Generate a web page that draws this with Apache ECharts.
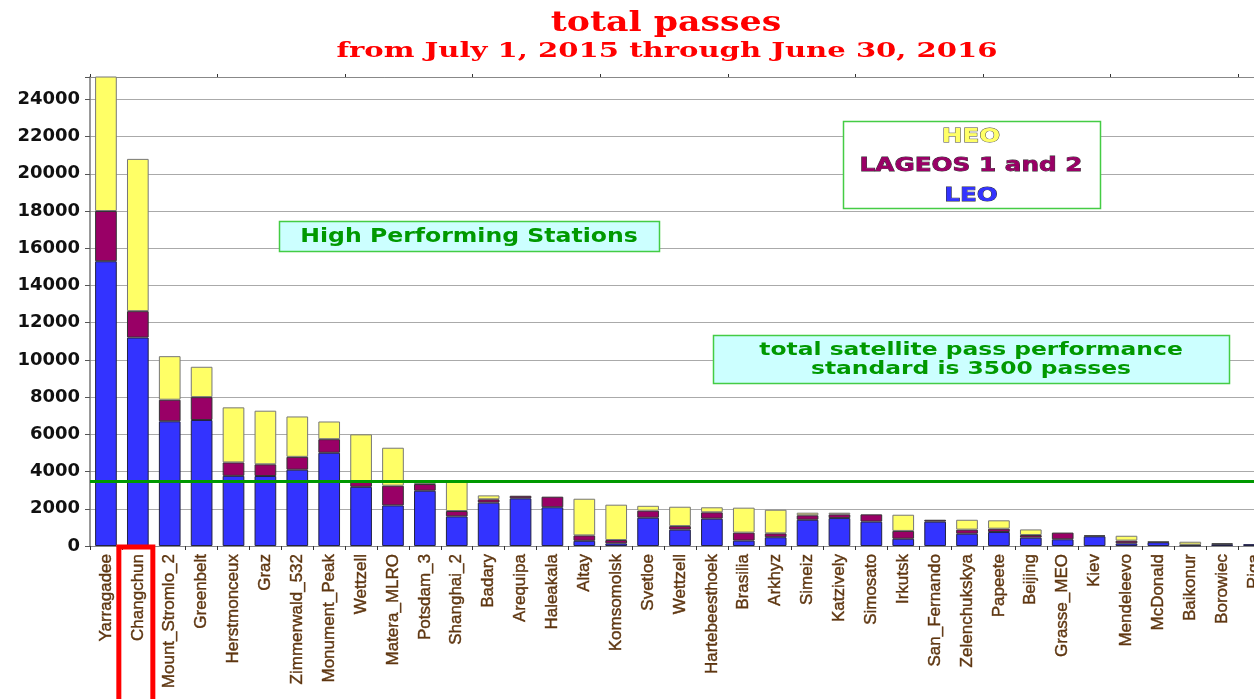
<!DOCTYPE html>
<html><head><meta charset="utf-8">
<script src="https://cdn.jsdelivr.net/npm/echarts@6/dist/echarts.min.js"></script>
<style>html,body{margin:0;padding:0;background:#fff;overflow:hidden}#c{width:1270px;height:699px}</style>
</head><body><div id="c"></div>
<script>
const stations = ['Yarragadee','Changchun','Mount_Stromlo_2','Greenbelt','Herstmonceux','Graz','Zimmerwald_532','Monument_Peak','Wettzell','Matera_MLRO','Potsdam_3','Shanghai_2','Badary','Arequipa','Haleakala','Altay','Komsomolsk','Svetloe','Wettzell','Hartebeesthoek','Brasilia','Arkhyz','Simeiz','Katzively','Simosato','Irkutsk','San_Fernando','Zelenchukskya','Papeete','Beijing','Grasse_MEO','Kiev','Mendeleevo','McDonald','Baikonur','Borowiec','Riga'];
const leo    = [15300,11200,6700,6770,3770,3760,4100,5010,3180,2180,2970,1590,2330,2560,2080,280,140,1520,880,1470,290,470,1410,1500,1310,390,1310,660,750,450,360,520,140,200,30,90,100];
const lageos = [2700,1420,1160,1230,720,630,690,730,270,1060,360,290,180,140,570,290,180,380,190,340,430,210,240,200,390,420,100,220,180,140,360,50,150,30,40,50,0];
const heo    = [8500,8180,2340,1630,2960,2880,2170,950,2550,2040,120,1570,210,0,0,1970,1900,260,1040,270,1340,1270,140,90,0,870,0,530,450,300,0,0,260,0,160,0,0];
const standard = 3500;
const yMax = 25200, yStep = 2000;
const titleLines = ['total passes', 'from July 1, 2015 through June 30, 2016'];

const chart = echarts.init(document.getElementById('c'), null, {renderer: 'canvas'});
const z = a => a.map(v => v === 0 ? '-' : v);
function bar(name, data, color, border, extra) {
  return Object.assign({
    name, type: 'bar', stack: 'total', data: z(data), barWidth: '68%',
    itemStyle: {color, borderColor: border, borderWidth: 1},
    emphasis: {disabled: true}
  }, extra || {});
}
chart.setOption({
  animation: false,
  backgroundColor: '#ffffff',
  grid: {left: 90, top: 77, right: 0, bottom: 153, containLabel: false},
  xAxis: [{
    type: 'category', data: stations,
    axisLine: {lineStyle: {color: '#888', width: 1}},
    axisTick: {show: true, length: 4, lineStyle: {color: '#333'}},
    axisLabel: {rotate: 90, interval: 0, margin: 8, color: '#5e3610', fontFamily: 'Liberation Sans', fontSize: 17,
      textBorderColor: '#5e3610', textBorderWidth: 0.4}
  }, {
    type: 'category', data: stations, position: 'top',
    axisLine: {show: true, lineStyle: {color: '#888'}},
    axisTick: {show: true, length: 3, lineStyle: {color: '#333'}},
    axisLabel: {show: false}
  }],
  yAxis: {
    type: 'value', min: 0, max: yMax, interval: yStep,
    axisLine: {show: true, lineStyle: {color: '#777', width: 1.5}},
    axisTick: {show: true, length: 5, lineStyle: {color: '#555'}},
    splitLine: {lineStyle: {color: '#aaa', width: 1}},
    axisLabel: {
      margin: 10, color: '#111', fontFamily: 'DejaVu Sans', fontWeight: 'bold', fontSize: 18,
      formatter: v => (v % yStep === 0 ? String(v) : '')
    }
  },
  series: [
    bar('LEO', leo, '#3333ff', '#222244', {
      markLine: {
        silent: true, symbol: 'none', label: {show: false},
        lineStyle: {color: '#009900', width: 3, type: 'solid'},
        data: [{yAxis: standard}]
      }
    }),
    bar('LAGEOS 1 and 2', lageos, '#990066', '#333'),
    bar('HEO', heo, '#ffff66', '#777')
  ]
});

const cx = chart.convertToPixel({xAxisIndex: 0}, 1);
const serif = 'DejaVu Serif';
const sans = 'DejaVu Sans';
function txt(x, y, text, font, fill, sx, extra) {
  return {type: 'text', x, y, scaleX: sx, z: 100,
    style: Object.assign({text, font, fill, align: 'center', verticalAlign: 'middle'}, extra || {})};
}
chart.setOption({graphic: [
  txt(666, 24, titleLines[0], 'bold 28px "' + serif + '"', '#ff0000', 1.24),
  txt(667, 52, titleLines[1], 'bold 21px "' + serif + '"', '#ff0000', 1.385),
  {type: 'rect', z: 90, shape: {x: 279.5, y: 221.5, width: 380, height: 30},
    style: {fill: '#ccffff', stroke: '#44cc44', lineWidth: 1.5}},
  txt(469, 237, 'High Performing Stations', 'bold 19px "' + sans + '"', '#009900', 1.24),
  {type: 'rect', z: 90, shape: {x: 713.5, y: 335.5, width: 516, height: 48},
    style: {fill: '#ccffff', stroke: '#44cc44', lineWidth: 1.5}},
  txt(971, 350, 'total satellite pass performance', 'bold 18px "' + sans + '"', '#009900', 1.3),
  txt(971, 369, 'standard is 3500 passes', 'bold 18px "' + sans + '"', '#009900', 1.3),
  {type: 'rect', z: 90, shape: {x: 843.5, y: 121.5, width: 257, height: 87},
    style: {fill: '#ffffff', stroke: '#44cc44', lineWidth: 1.5}},
  txt(971, 137, 'HEO', 'bold 19px "' + sans + '"', '#ffff66', 1.3, {stroke: '#444', lineWidth: 0.8}),
  txt(971, 166, 'LAGEOS 1 and 2', 'bold 19px "' + sans + '"', '#990066', 1.3, {stroke: '#333', lineWidth: 0.8}),
  txt(971, 196, 'LEO', 'bold 19px "' + sans + '"', '#3333ff', 1.3, {stroke: '#333', lineWidth: 0.8}),
  {type: 'rect', z: 95, shape: {x: cx - 19, y: 547, width: 34, height: 160},
    style: {fill: 'none', stroke: '#ff0000', lineWidth: 5}}
]});
</script>
</body></html>
